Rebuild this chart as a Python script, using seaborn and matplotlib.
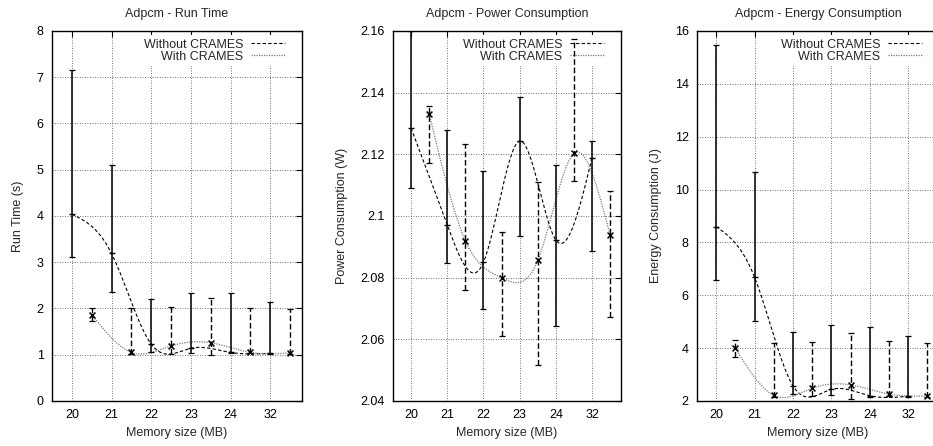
import numpy as np
import seaborn as sns
import matplotlib.pyplot as plt
from matplotlib.lines import Line2D

mem_sizes = ["20", "21", "22", "23", "24", "32"]

# run time (s)
rt_without = [4.04, 3.19, 1.23, 1.14, 1.05, 1.03]
rt_without_lo = [3.12, 2.36, 1.06, 1.04, 1.03, 1.01]
rt_without_hi = [7.16, 5.10, 2.21, 2.33, 2.33, 2.13]
rt_with = [1.87, 1.05, 1.19, 1.26, 1.05, 1.04]
rt_with_lo = [1.73, 1.01, 1.01, 0.99, 1.03, 1.01]
rt_with_hi = [2.02, 2.00, 2.04, 2.22, 2.00, 1.98]

# power consumption (W)
pw_without = [2.1285, 2.0971, 2.0850, 2.1243, 2.0922, 2.1189]
pw_without_lo = [2.1090, 2.0848, 2.0698, 2.0936, 2.0643, 2.0887]
pw_without_hi = [2.1600, 2.1279, 2.1147, 2.1386, 2.1165, 2.1244]
pw_with = [2.1331, 2.0920, 2.0800, 2.0856, 2.1203, 2.0938]
pw_with_lo = [2.1173, 2.0760, 2.0611, 2.0516, 2.1115, 2.0671]
pw_with_hi = [2.1356, 2.1234, 2.0947, 2.1109, 2.1574, 2.1082]

# energy consumption (J)
en_without = [8.60, 6.68, 2.57, 2.44, 2.20, 2.18]
en_without_lo = [6.58, 5.03, 2.25, 2.24, 2.16, 2.14]
en_without_hi = [15.47, 10.68, 4.60, 4.88, 4.81, 4.45]
en_with = [3.99, 2.21, 2.48, 2.61, 2.26, 2.19]
en_with_lo = [3.65, 2.16, 2.19, 2.08, 2.19, 2.15]
en_with_hi = [4.31, 4.18, 4.22, 4.56, 4.27, 4.19]

sns.set_style("white")
plt.rcParams['font.family'] = ['Liberation Sans', 'DejaVu Sans']
FS = 9


def cspline(x, y, n=300):
    # natural cubic spline, like gnuplot "smooth csplines"
    x = np.asarray(x, float)
    y = np.asarray(y, float)
    k = len(x)
    h = np.diff(x)
    A = np.zeros((k, k))
    r = np.zeros(k)
    A[0, 0] = A[-1, -1] = 1
    for i in range(1, k - 1):
        A[i, i - 1] = h[i - 1]
        A[i, i] = 2 * (h[i - 1] + h[i])
        A[i, i + 1] = h[i]
        r[i] = 3 * ((y[i + 1] - y[i]) / h[i] - (y[i] - y[i - 1]) / h[i - 1])
    c = np.linalg.solve(A, r)
    b = (y[1:] - y[:-1]) / h - h * (2 * c[:-1] + c[1:]) / 3
    d = (c[1:] - c[:-1]) / (3 * h)
    xs = np.linspace(x[0], x[-1], n)
    i = np.clip(np.searchsorted(x, xs) - 1, 0, k - 2)
    t = xs - x[i]
    return xs, y[i] + b[i] * t + c[i] * t ** 2 + d[i] * t ** 3


panels = [
    ("Adpcm - Run Time", "Run Time (s)", (0, 8), np.arange(0, 9, 1),
     rt_without, rt_without_lo, rt_without_hi, rt_with, rt_with_lo, rt_with_hi,
     [52 / 933, 0.1009, 250 / 933, 0.8296]),
    ("Adpcm - Power Consumption", "Power Consumption (W)", (2.04, 2.16),
     np.arange(2.04, 2.161, 0.02),
     pw_without, pw_without_lo, pw_without_hi, pw_with, pw_with_lo, pw_with_hi,
     [393 / 933, 0.1009, 228 / 933, 0.8296]),
    ("Adpcm - Energy Consumption", "Energy Consumption (J)", (2, 16), np.arange(2, 17, 2),
     en_without, en_without_lo, en_without_hi, en_with, en_with_lo, en_with_hi,
     [697 / 933, 0.1009, 242 / 933, 0.8296]),
]

fig = plt.figure(figsize=(9.33, 4.46), dpi=100)

for title, ylab, ylim, yticks, wo, wo_lo, wo_hi, wi, wi_lo, wi_hi, pos in panels:
    ax = fig.add_axes(pos)
    x0 = np.arange(len(mem_sizes))
    x1 = x0 + 0.5
    wo = np.array(wo); wi = np.array(wi)

    # smooth curves
    xs, ys = cspline(x0, wo)
    sns.lineplot(x=xs, y=ys, ax=ax, color="black", lw=0.8, linestyle=(0, (3, 2)),
                 sort=False, estimator=None, zorder=3)
    xs, ys = cspline(x1, wi)
    sns.lineplot(x=xs, y=ys, ax=ax, color="#7a7a7a", lw=0.9, linestyle=(0, (1, 1)),
                 sort=False, estimator=None, zorder=3)

    # error bars
    ax.errorbar(x0, wo, yerr=[wo - np.array(wo_lo), np.array(wo_hi) - wo],
                fmt="none", ecolor="black", elinewidth=1.1, capsize=2.5,
                capthick=0.9, zorder=4)
    eb = ax.errorbar(x1, wi, yerr=[wi - np.array(wi_lo), np.array(wi_hi) - wi],
                     fmt="none", ecolor="black", elinewidth=1.0, capsize=2.5,
                     capthick=0.9, zorder=4)
    eb[2][0].set_linestyle((0, (4, 2)))

    sns.scatterplot(x=x0, y=wo, ax=ax, marker="_", color="black", s=25,
                    linewidth=1, zorder=5)
    sns.scatterplot(x=x1, y=wi, ax=ax, marker="x", color="black", s=18,
                    linewidth=1.1, zorder=5)

    ax.set_xlim(-0.5, 5.8)
    ax.set_ylim(*ylim)
    ax.set_xticks(x0)
    ax.set_xticklabels(mem_sizes)
    ax.set_yticks(yticks)
    if ylim[0] == 2.04:
        ax.set_yticklabels(["2.04", "2.06", "2.08", "2.1", "2.12", "2.14", "2.16"])
    ax.tick_params(direction="in", length=4, width=0.8, top=True, right=True,
                   labelsize=FS, pad=6, colors="black")
    ax.grid(True, color="#444444", linestyle=(0, (1, 2)), linewidth=0.6)
    ax.set_axisbelow(True)
    for s in ax.spines.values():
        s.set_color("black")
        s.set_linewidth(1.0)
    ax.set_title(title, fontsize=FS, pad=10)
    ax.set_xlabel("Memory size (MB)", fontsize=FS, labelpad=4)
    ax.set_ylabel(ylab, fontsize=FS, labelpad=9)

    w_px = pos[2] * 933
    h_px = pos[3] * 446
    handles = [Line2D([], [], color="black", lw=0.8, linestyle=(0, (3, 2))),
               Line2D([], [], color="#7a7a7a", lw=0.9, linestyle=(0, (1, 1)))]
    leg = ax.legend(handles, ["Without CRAMES", "With CRAMES"], loc="upper right",
                    bbox_to_anchor=(1 - 13.5 / w_px, 1 - 4 / h_px),
                    markerfirst=False, fontsize=FS, frameon=True, fancybox=False,
                    edgecolor="none", facecolor="white", framealpha=1,
                    handlelength=2.7, handletextpad=0.6, labelspacing=0.0,
                    borderpad=0.3, borderaxespad=0)
    leg.set_zorder(1.5)

fig.savefig("out.png", dpi=100)
